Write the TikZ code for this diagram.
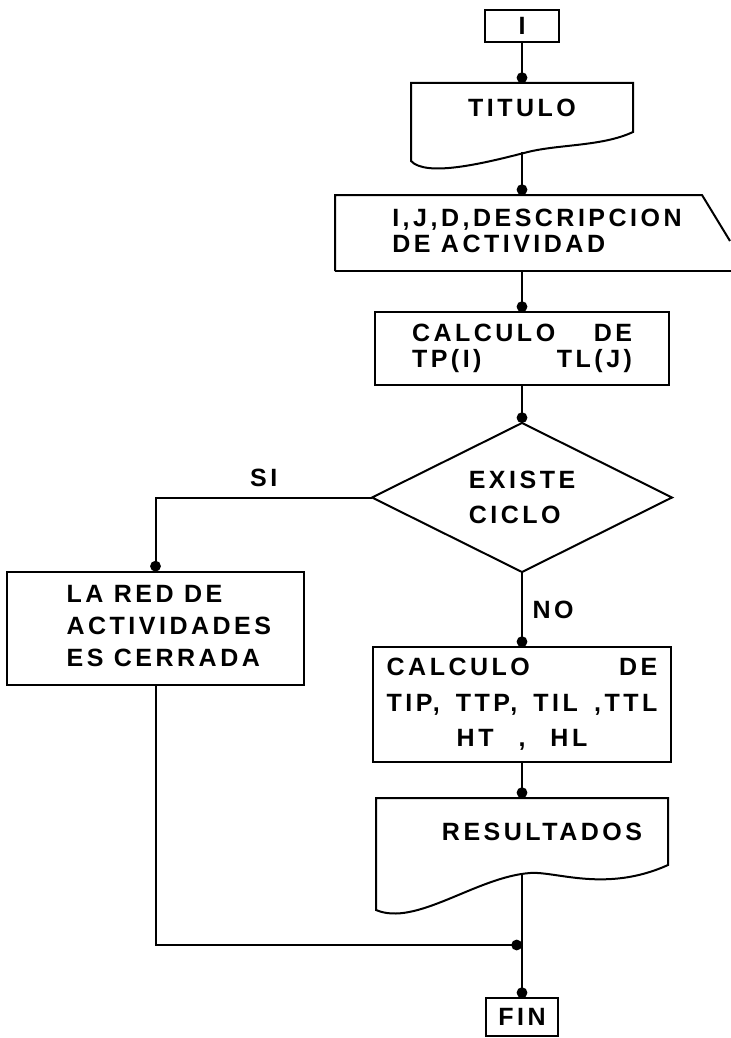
\documentclass[tikz,border=0pt]{standalone}
\usepackage{fontspec}
\newfontfamily\lettering{Liberation Sans}[LetterSpace=14]
\newcommand\chartfont{\lettering\bfseries\fontsize{18.75pt}{24pt}\selectfont}
\usetikzlibrary{positioning,arrows.meta,shapes.geometric}
\tikzset{
  txt/.style={font=\chartfont, inner sep=0pt, outer sep=0pt},
  box/.style={txt, draw},
  flow/.style={-{Circle[length=8pt]}}
}

\begin{document}
\begin{tikzpicture}[x=0.75pt, y=-0.75pt, line width=1.5pt]
\useasboundingbox (0,0) rectangle (731,1038);
\node[box, minimum width=56pt, minimum height=24pt] (ini) at (522,26) {I};
\node[txt, minimum width=166.5pt, minimum height=36.75pt, below=30.75pt of ini] (titulo) {TITULO};
\node[txt, minimum width=280.5pt, minimum height=57pt, below=47.25pt of titulo] (ijd) {\hspace*{22.5pt}\begin{tabular}{@{}l@{}}I,J,D,DESCRIPCION\\[-5pt]DE ACTIVIDAD\end{tabular}};
\node[box, align=left, text width=165pt, minimum width=220.5pt, minimum height=54.75pt, below=30.75pt of ijd] (calctp) {CALCULO\hfill DE\\[-5pt]TP(I)\hfill TL(J)};
\node[box, diamond, aspect=2, align=left, minimum width=225pt, minimum height=111.75pt, below=28.5pt of calctp] (ciclo) {EXISTE\\[2.25pt]CICLO};
\node[box, minimum width=222.75pt, minimum height=84.75pt, below left=55.5pt and 51pt of ciclo.west] (lared) {\hspace*{20pt}\begin{tabular}{@{}l@{}}LA RED DE\\ACTIVIDADES\\ES CERRADA\end{tabular}};
\node[box, align=left, text width=203pt, minimum width=223.5pt, minimum height=86.25pt, below=56.25pt of ciclo] (calctip) {CALCULO\hfill DE\\[2.5pt]TIP,\hfill TTP,\hfill TIL\hfill ,TTL\\[2.5pt]\makebox[\linewidth]{HT\quad ,\quad HL}};
\node[txt, minimum width=219pt, minimum height=50.25pt, below=27pt of calctip] (resultados) {\hspace*{30pt}RESULTADOS};
\coordinate[below=60pt of resultados] (junct);
\node[box, minimum width=54pt, minimum height=28.5pt, below=99.75pt of resultados] (fin) {FIN};

\begin{scope}[shift={(titulo.south west)}]
\draw (222,0) -- (222,-49) -- (0,-49) -- (0,29)
  .. controls (15,45) and (70,32) .. (113,21)
  .. controls (145,12) and (190,15) .. (222,0) -- cycle;
\end{scope}
\draw (ijd.south west) -- (ijd.north west) -- ++(367,0) -- ++(28,46);
\draw (ijd.south west) -- ++(396,0);
\begin{scope}[shift={(resultados.south west)}]
\draw (292,0) -- (292,-67) -- (0,-67) -- (0,45)
  .. controls (40,62) and (100,12) .. (154,8)
  .. controls (180,6) and (230,28) .. (292,0) -- cycle;
\end{scope}

\draw[flow] (ini) -- (titulo);
\draw[flow] ([yshift=-15pt]titulo.south) -- (ijd);
\draw[flow] (ijd) -- (calctp);
\draw[flow] (calctp) -- (ciclo);
\draw[flow] (ciclo.west) -| node[txt, pos=0.25, above=8pt] {SI} (lared.north);
\draw[flow] (ciclo) -- node[txt, right=8pt] {NO} (calctip);
\draw[flow] (calctip) -- (resultados);
\draw[flow] (lared) |- (junct);
\draw[flow] ([yshift=-6pt]resultados.south) -- (fin);
\end{tikzpicture}
\end{document}
